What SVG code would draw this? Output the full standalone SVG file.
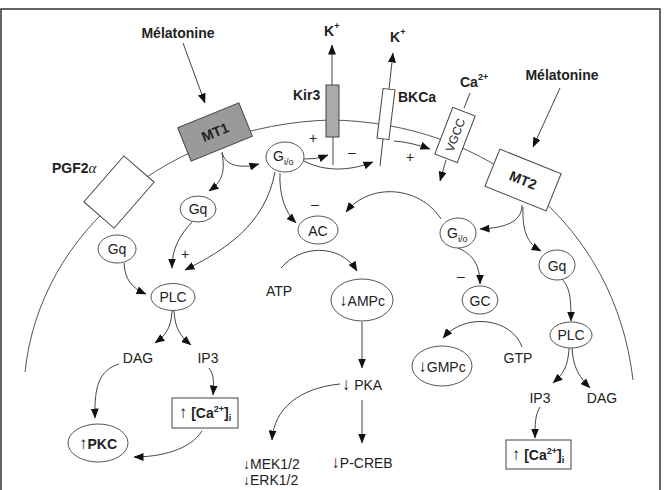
<svg xmlns="http://www.w3.org/2000/svg" width="664" height="490" viewBox="0 0 664 490">
<style>
text{font-family:"Liberation Sans",Arial,sans-serif;font-size:14px;fill:#222}
.b{font-weight:bold}
.c{stroke:#444;stroke-width:1;fill:none}
.a{marker-end:url(#ah)}
.e{fill:#fff;stroke:#555;stroke-width:1}
.bx{fill:#fff;stroke:#444;stroke-width:1}
.s{font-size:9px}
.m{text-anchor:middle}
.ar{font-size:17px;font-weight:normal}
.ar2{font-size:14px;font-weight:normal}
</style>
<defs>
<marker id="ah" markerWidth="10" markerHeight="8" refX="9.5" refY="4" orient="auto" markerUnits="userSpaceOnUse"><path d="M0,0 L10,4 L0,8 z" fill="#111"/></marker>
</defs>
<rect width="664" height="490" fill="#fff"/>
<path d="M1,491 V9 H660 V491" fill="none" stroke="#333" stroke-width="1.5"/>
<path id="membrane" d="M25,372 C40,230 170,125 330,120 C488,122 615,225 633,380" fill="none" stroke="#555" stroke-width="1"/>

<g id="connectors">
<path class="c a" d="M183,43 L205,103"/>
<path class="c a" d="M560,88 L533,147"/>
<path class="c a" d="M332,85 L332,45"/>
<path class="c a" d="M389,89 L393,53"/>
<path class="c" d="M333,137 L333,165"/>
<path class="c" d="M383,139 L380,166"/>
<path class="c" d="M470,93 L464,108"/>
<path class="c a" d="M446,160 L440,181"/>
<path class="c a" d="M394,141 Q410,142 430,149"/>
<path class="c a" d="M222,152 C225,168 245,168 259,164"/>
<path class="c a" d="M222,153 C226,175 220,183 209,191"/>
<path class="c a" d="M303,159 Q315,160 328,155"/>
<path class="c a" d="M304,161 C325,172 350,171 373,162"/>
<path class="c a" d="M280,173 C279,195 285,212 296,223"/>
<path class="c a" d="M275,172 C265,225 225,250 185,270"/>
<path class="c a" d="M192,222 C180,235 172,248 172,268"/>
<path class="c a" d="M124,263 C125,280 132,288 146,294"/>
<path class="c a" d="M281,268 C300,245 340,243 357,271"/>
<path class="c a" d="M441,219 C420,186 370,182 346,212"/>
<path class="c a" d="M522,205 C522,222 505,228 480,229"/>
<path class="c a" d="M523,207 C522,232 528,244 541,251"/>
<path class="c a" d="M458,248 C470,253 480,262 480,284"/>
<path class="c a" d="M522,347 C512,318 465,312 443,338"/>
<path class="c a" d="M562,279 C570,288 571,298 571,321"/>
<path class="c a" d="M569,348 C568,368 562,375 553,383"/>
<path class="c a" d="M572,348 C573,368 580,378 590,388"/>
<path class="c a" d="M540,407 C535,415 535,425 535,438"/>
<path class="c a" d="M362,322 L362,368"/>
<path class="c a" d="M362,400 L362,443"/>
<path class="c a" d="M340,384 C300,388 274,408 272,440"/>
<path class="c a" d="M172,311 C171,328 166,335 155,343"/>
<path class="c a" d="M174,311 C175,328 180,336 191,345"/>
<path class="c a" d="M119,364 C100,370 94,385 95,418"/>
<path class="c a" d="M209,368 C214,375 214,382 213,395"/>
<path class="c a" d="M202,431 C190,450 160,457 134,457"/>
<text x="313" y="143" class="m">+</text>
<text x="410" y="162" class="m">+</text>
<text x="185" y="259" class="m">+</text>
<text x="352" y="157" class="m">–</text>
<text x="315" y="209" class="m">–</text>
<text x="461" y="281" class="m">–</text>
</g>

<g id="melatonine1"><text x="178" y="38" class="b m">Mélatonine</text></g>
<g id="melatonine2"><text x="562" y="80" class="b m">Mélatonine</text></g>

<g id="MT1" transform="translate(215,132) rotate(-22)">
<rect x="-33" y="-18" width="66" height="36" fill="#9a9a9a" stroke="#444"/>
<text y="5" class="b m">MT1</text>
</g>

<g id="PGF2a">
<rect class="bx" x="-30.5" y="-20" width="61" height="40" transform="translate(119,192) rotate(-49)"/>
<text x="52" y="173" class="b">PGF2<tspan font-weight="normal" font-family="Liberation Serif,serif" font-style="italic" font-size="15">α</tspan></text>
</g>

<g id="Kir3">
<rect x="326" y="85" width="13" height="52" fill="#aaa" stroke="#444"/>
<text x="293" y="100" class="b">Kir3</text>
<text x="324" y="36" class="b">K<tspan class="s" dy="-7">+</tspan></text>
</g>

<g id="BKCa">
<rect class="bx" x="-6" y="-25" width="12" height="50" transform="translate(386,114) rotate(7)"/>
<text x="398" y="102" class="b">BKCa</text>
<text x="390" y="42" class="b">K<tspan class="s" dy="-7">+</tspan></text>
</g>

<g id="VGCC">
<g transform="translate(455,135) rotate(21)">
<rect class="bx" x="-12" y="-25" width="24" height="50"/>
<text transform="rotate(-90)" y="4.5" class="m" style="font-size:12px">VGCC</text>
</g>
<text x="460" y="87" class="b">Ca<tspan class="s" dy="-7">2+</tspan></text>
</g>

<g id="MT2" transform="translate(523,180) rotate(22)">
<rect class="bx" x="-33" y="-20" width="66" height="40"/>
<text y="5" class="b m">MT2</text>
</g>

<g id="Gio1"><ellipse class="e" cx="285" cy="157" rx="19" ry="15"/><text x="273" y="161">G<tspan class="s" dy="4">i/o</tspan></text></g>
<g id="Gq1"><ellipse class="e" cx="198" cy="209" rx="18" ry="13"/><text x="198" y="214" class="m">Gq</text></g>
<g id="Gq0"><ellipse class="e" cx="117" cy="249" rx="19" ry="14"/><text x="117" y="254" class="m">Gq</text></g>
<g id="PLC1"><ellipse class="e" cx="173" cy="297" rx="22" ry="13.5"/><text x="173" y="302" class="m">PLC</text></g>
<g id="AC"><ellipse class="e" cx="318" cy="230" rx="20" ry="14"/><text x="318" y="236" class="m">AC</text></g>
<g id="ATP"><text x="279" y="296" class="m">ATP</text></g>
<g id="AMPc"><ellipse class="e" cx="362" cy="300" rx="31" ry="21"/><text x="362" y="306" class="m"><tspan class="ar">↓</tspan>AMPc</text></g>
<g id="PKA"><text x="362" y="390" class="m"><tspan class="ar">↓</tspan> PKA</text></g>
<g id="PCREB"><text x="362" y="468" class="m"><tspan class="ar">↓</tspan>P-CREB</text></g>
<g id="MEK"><text x="243" y="469"><tspan class="ar2">↓</tspan>MEK1/2</text><text x="243" y="485"><tspan class="ar2">↓</tspan>ERK1/2</text></g>
<g id="DAG1"><text x="138" y="363" class="m">DAG</text></g>
<g id="IP3a"><text x="208" y="363" class="m">IP3</text></g>
<g id="Ca1"><rect class="bx" x="172" y="398" width="66" height="30"/><text x="205" y="418" class="b m"><tspan class="ar">↑</tspan> [Ca<tspan class="s" dy="-6">2+</tspan><tspan dy="6">]</tspan><tspan class="s" dy="3">i</tspan></text></g>
<g id="PKC"><ellipse class="e" cx="98" cy="443" rx="30" ry="19"/><text x="98" y="449" class="m"><tspan class="ar">↑</tspan><tspan font-weight="bold">PKC</tspan></text></g>
<g id="Gio2"><ellipse class="e" cx="458" cy="233" rx="18" ry="15"/><text x="447" y="238">G<tspan class="s" dy="4">i/o</tspan></text></g>
<g id="GC"><ellipse class="e" cx="480" cy="300" rx="18" ry="14"/><text x="480" y="306" class="m">GC</text></g>
<g id="GTP"><text x="518" y="363" class="m">GTP</text></g>
<g id="GMPc"><ellipse class="e" cx="442" cy="366" rx="30" ry="20"/><text x="442" y="372" class="m"><tspan class="ar">↓</tspan>GMPc</text></g>
<g id="Gq2"><ellipse class="e" cx="557" cy="265" rx="18" ry="15"/><text x="557" y="271" class="m">Gq</text></g>
<g id="PLC2"><ellipse class="e" cx="571" cy="335" rx="21" ry="13"/><text x="571" y="340" class="m">PLC</text></g>
<g id="IP3b"><text x="540" y="403" class="m">IP3</text></g>
<g id="DAG2"><text x="602" y="403" class="m">DAG</text></g>
<g id="Ca2"><rect class="bx" x="506" y="440" width="65" height="29"/><text x="538" y="460" class="b m"><tspan class="ar">↑</tspan> [Ca<tspan class="s" dy="-6">2+</tspan><tspan dy="6">]</tspan><tspan class="s" dy="3">i</tspan></text></g>
</svg>
